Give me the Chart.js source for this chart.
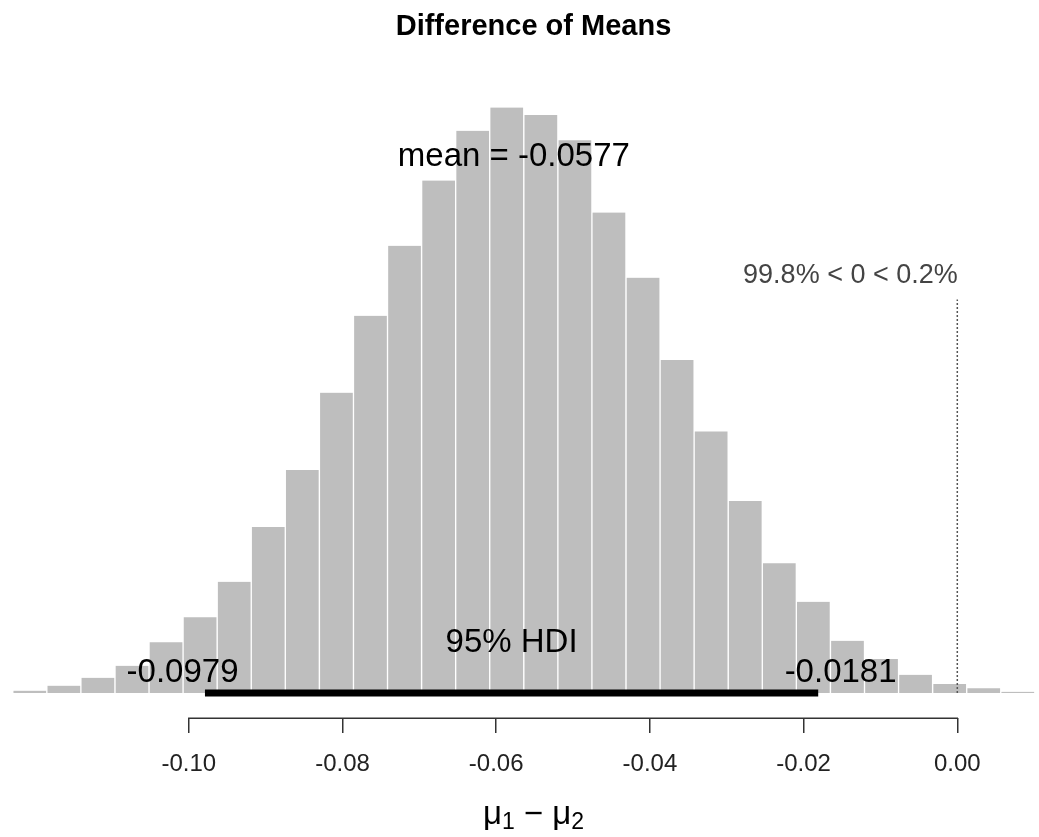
<!DOCTYPE html>
<html>
<head>
<meta charset="utf-8">
<script src="https://cdn.jsdelivr.net/npm/chart.js@4.4.1/dist/chart.umd.min.js"></script>
<style>
  html, body { margin: 0; padding: 0; background: #ffffff; }
  canvas { display: block; }
</style>
</head>
<body>
<canvas id="posterior" width="1039" height="837"></canvas>
<script>
// Posterior histogram of mu1 - mu2 (density scale), one value per bin
const binCenters = [
  -0.12069, -0.11626, -0.11183, -0.10739, -0.10296, -0.09853, -0.09409, -0.08966,
  -0.08523, -0.08079, -0.07636, -0.07193, -0.06749, -0.06306, -0.05863, -0.05419,
  -0.04976, -0.04533, -0.04089, -0.03646, -0.03203, -0.02759, -0.02316, -0.01873,
  -0.01429, -0.00986, -0.00543, -0.00099, 0.00344, 0.00787
];
const densities = [
  0.08, 0.25, 0.52, 0.93, 1.73, 2.58, 3.79, 5.66,
  7.60, 10.24, 12.86, 15.25, 17.47, 19.17, 19.96, 19.71,
  18.85, 16.38, 14.16, 11.35, 8.92, 6.55, 4.42, 3.11,
  1.78, 1.16, 0.62, 0.31, 0.16, 0.04
];
const tickValues = [-0.10, -0.08, -0.06, -0.04, -0.02, 0.00];
const tickLabels = ['-0.10', '-0.08', '-0.06', '-0.04', '-0.02', '0.00'];

// Summary statistics
const meanValue = -0.0577;
const hdiBounds = [-0.0979, -0.0181];
const hdiMass = 95;
const compValue = 0;
const pctBelowAbove = [99.8, 0.2];

const titleText = 'Difference of Means';
const FONT = '"Liberation Sans", Arial, Helvetica, sans-serif';

const maxDensity = Math.max(...densities);
const compHeight = 0.7 * maxDensity;   // height of the comparison label
const meanHeight = 0.9 * maxDensity;   // height of the mean label

// Text drawn at data coordinates, plus the title and the axis label
const annotate = {
  id: 'annotate',
  afterDraw(chart) {
    const { ctx, chartArea, scales: { x, y } } = chart;
    ctx.save();

    // axis line between the outer ticks
    ctx.strokeStyle = '#333';
    ctx.lineWidth = 1.5;
    ctx.beginPath();
    const ay = Math.round(chartArea.bottom) + 0.25;
    ctx.moveTo(x.getPixelForValue(tickValues[0]) - 0.75, ay);
    ctx.lineTo(x.getPixelForValue(tickValues[tickValues.length - 1]) + 0.75, ay);
    ctx.stroke();

    const put = (text, px, py, adj, size, color, weight) => {
      ctx.font = (weight || 'normal') + ' ' + size + 'px ' + FONT;
      ctx.fillStyle = color || '#000';
      ctx.textBaseline = 'alphabetic';
      ctx.textAlign = 'left';
      const w = ctx.measureText(text).width;
      ctx.fillText(text, px - adj * w, py);
    };

    const base = y.getPixelForValue(0);

    // mean
    put('mean = ' + meanValue.toString(), x.getPixelForValue(meanValue),
        y.getPixelForValue(meanHeight), 0.5, 33);

    // HDI
    put(hdiMass + '% HDI', x.getPixelForValue((hdiBounds[0] + hdiBounds[1]) / 2),
        base - 41, 0.5, 33);
    put(hdiBounds[0].toString(), x.getPixelForValue(hdiBounds[0]), base - 11, 0.7, 33);
    put(hdiBounds[1].toString(), x.getPixelForValue(hdiBounds[1]), base - 11, 0.3, 33);

    // comparison value
    put(pctBelowAbove[0] + '% < ' + compValue + ' < ' + pctBelowAbove[1] + '%',
        x.getPixelForValue(compValue), y.getPixelForValue(compHeight),
        pctBelowAbove[0] / 100, 27, '#444');

    // title
    const cx = chart.width / 2 + 14;
    ctx.font = 'bold 29px ' + FONT;
    ctx.fillStyle = '#000';
    ctx.textAlign = 'center';
    ctx.textBaseline = 'alphabetic';
    ctx.fillText(titleText, cx, 35);

    // axis label: mu[1] - mu[2]
    const parts = [
      { t: '\u03bc', s: 33, dy: 0 },
      { t: '1', s: 23, dy: 4.5 },
      { t: ' \u2212 ', s: 33, dy: 0 },
      { t: '\u03bc', s: 33, dy: 0 },
      { t: '2', s: 23, dy: 4.5 }
    ];
    ctx.textAlign = 'left';
    let total = 0;
    parts.forEach(p => { ctx.font = p.s + 'px ' + FONT; p.w = ctx.measureText(p.t).width; total += p.w; });
    let lx = cx - total / 2;
    parts.forEach(p => {
      ctx.font = p.s + 'px ' + FONT;
      ctx.fillText(p.t, lx, 824 + p.dy);
      lx += p.w;
    });

    ctx.restore();
  }
};

new Chart(document.getElementById('posterior'), {
  type: 'bar',
  data: {
    datasets: [
      {
        type: 'line',
        label: 'HDI',
        data: hdiBounds.map(v => ({ x: v, y: 0 })),
        borderColor: '#000',
        borderWidth: 7,
        borderCapStyle: 'butt',
        pointRadius: 0,
        order: 0
      },
      {
        type: 'line',
        label: 'comparison',
        data: [{ x: compValue, y: 0 }, { x: compValue, y: 0.96 * compHeight }],
        borderColor: '#555',
        borderWidth: 1.5,
        borderDash: [2, 2],
        pointRadius: 0,
        order: 1
      },
      {
        type: 'bar',
        label: 'density',
        data: binCenters.map((v, i) => ({ x: v, y: densities[i] })),
        backgroundColor: '#bebebe',
        borderColor: '#ffffff',
        borderWidth: { top: 0, right: 1, bottom: 0, left: 1 },
        barPercentage: 1,
        categoryPercentage: 1,
        order: 2
      }
    ]
  },
  options: {
    responsive: false,
    animation: false,
    layout: { padding: { top: 50, left: 0, right: 0, bottom: 0 } },
    plugins: { legend: { display: false }, tooltip: { enabled: false }, title: { display: false } },
    scales: {
      x: {
        type: 'linear',
        position: 'bottom',
        offset: false,
        min: -0.12457,
        max: 0.010631,
        afterBuildTicks: s => { s.ticks = tickValues.map(v => ({ value: v })); },
        afterFit: s => { s.height = 119; },
        ticks: {
          callback: (v, i) => tickLabels[i],
          font: { family: FONT, size: 24 },
          color: '#222',
          padding: 17,
          maxRotation: 0,
          autoSkip: false
        },
        grid: { offset: false, drawOnChartArea: false, drawTicks: true, tickLength: 15, color: '#333', lineWidth: 1.5 },
        border: { display: false }
      },
      y: { display: false, min: -0.8524, max: 21.923 }
    }
  },
  plugins: [annotate]
});
</script>
</body>
</html>
